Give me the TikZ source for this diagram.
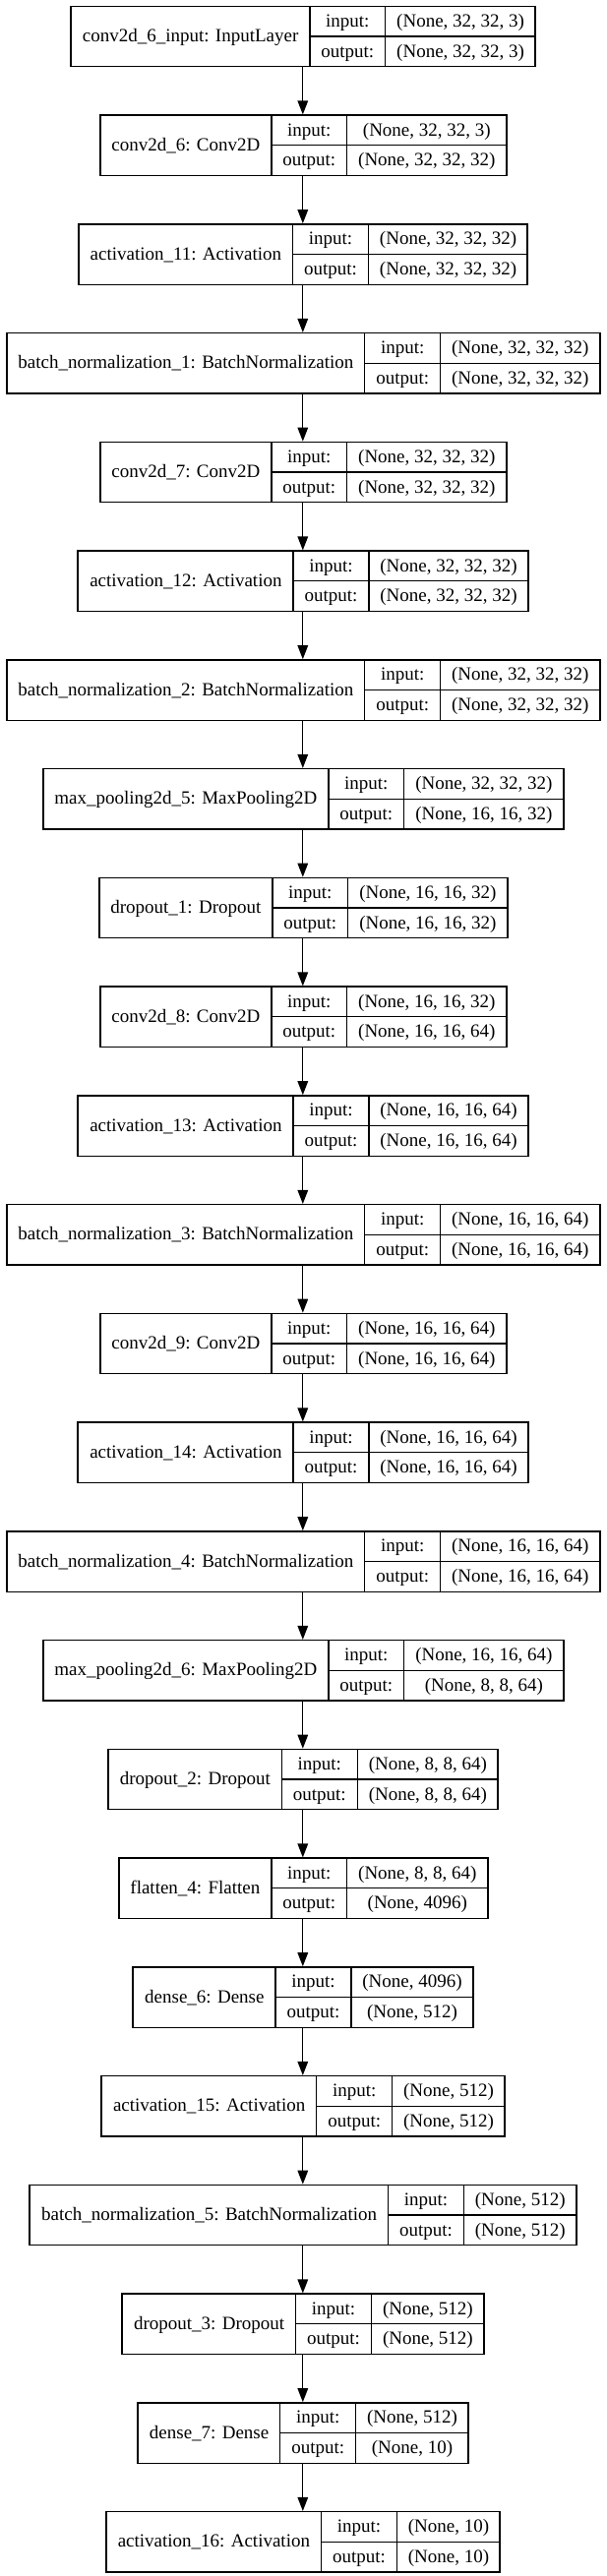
\documentclass[tikz,border=0pt]{standalone}
\usepackage{fontspec}
\setmainfont{Liberation Serif}
\usetikzlibrary{arrows.meta}
\newcommand\kfont{\fontsize{19}{22}\selectfont}
\newdimen\kwa \newdimen\kwb \newdimen\kwc \newdimen\kwd
\newcommand\layers{%
 0/{conv2d\_6\_input: InputLayer}/{(None, 32, 32, 3)}/{(None, 32, 32, 3)},
 1/{conv2d\_6: Conv2D}/{(None, 32, 32, 3)}/{(None, 32, 32, 32)},
 2/{activation\_11: Activation}/{(None, 32, 32, 32)}/{(None, 32, 32, 32)},
 3/{batch\_normalization\_1: BatchNormalization}/{(None, 32, 32, 32)}/{(None, 32, 32, 32)},
 4/{conv2d\_7: Conv2D}/{(None, 32, 32, 32)}/{(None, 32, 32, 32)},
 5/{activation\_12: Activation}/{(None, 32, 32, 32)}/{(None, 32, 32, 32)},
 6/{batch\_normalization\_2: BatchNormalization}/{(None, 32, 32, 32)}/{(None, 32, 32, 32)},
 7/{max\_pooling2d\_5: MaxPooling2D}/{(None, 32, 32, 32)}/{(None, 16, 16, 32)},
 8/{dropout\_1: Dropout}/{(None, 16, 16, 32)}/{(None, 16, 16, 32)},
 9/{conv2d\_8: Conv2D}/{(None, 16, 16, 32)}/{(None, 16, 16, 64)},
 10/{activation\_13: Activation}/{(None, 16, 16, 64)}/{(None, 16, 16, 64)},
 11/{batch\_normalization\_3: BatchNormalization}/{(None, 16, 16, 64)}/{(None, 16, 16, 64)},
 12/{conv2d\_9: Conv2D}/{(None, 16, 16, 64)}/{(None, 16, 16, 64)},
 13/{activation\_14: Activation}/{(None, 16, 16, 64)}/{(None, 16, 16, 64)},
 14/{batch\_normalization\_4: BatchNormalization}/{(None, 16, 16, 64)}/{(None, 16, 16, 64)},
 15/{max\_pooling2d\_6: MaxPooling2D}/{(None, 16, 16, 64)}/{(None, 8, 8, 64)},
 16/{dropout\_2: Dropout}/{(None, 8, 8, 64)}/{(None, 8, 8, 64)},
 17/{flatten\_4: Flatten}/{(None, 8, 8, 64)}/{(None, 4096)},
 18/{dense\_6: Dense}/{(None, 4096)}/{(None, 512)},
 19/{activation\_15: Activation}/{(None, 512)}/{(None, 512)},
 20/{batch\_normalization\_5: BatchNormalization}/{(None, 512)}/{(None, 512)},
 21/{dropout\_3: Dropout}/{(None, 512)}/{(None, 512)},
 22/{dense\_7: Dense}/{(None, 512)}/{(None, 10)},
 23/{activation\_16: Activation}/{(None, 10)}/{(None, 10)}}
\begin{document}
\foreach \i/\lab/\vin/\vout in \layers {%
  \settowidth\kwa{\kfont \lab}%
  \settowidth\kwc{\kfont \vin}%
  \settowidth\kwd{\kfont \vout}%
  \pgfmathsetmacro\tmpa{\kwa+23}%
  \pgfmathsetmacro\tmpc{max(\kwc,\kwd)+23}%
  \expandafter\xdef\csname kwl\i\endcsname{\tmpa}%
  \expandafter\xdef\csname kwv\i\endcsname{\tmpc}%
}%
\settowidth\kwb{\kfont output:}%
\pgfmathsetmacro\tmpb{\kwb+23}%
\xdef\kwio{\tmpb}%
\begin{tikzpicture}[x=1pt,y=-1pt,
  outerbox/.style={draw=black, line width=1.33pt, inner sep=0pt, anchor=north, minimum height=61.3pt},
  cellbox/.style={draw=black, line width=1.33pt, inner sep=0pt, anchor=north west, font=\kfont, text height=14.5pt, text depth=3.1pt, align=center},
  arr/.style={draw=black, line width=1.33pt, -{Triangle[length=14pt,width=10.5pt]}}]
\useasboundingbox (0,0) rectangle (616,2619);
\foreach \i/\lab/\vin/\vout in \layers {
  \pgfmathsetmacro\wl{\csname kwl\i\endcsname}
  \pgfmathsetmacro\wi{\kwio}
  \pgfmathsetmacro\wv{\csname kwv\i\endcsname}
  \pgfmathsetmacro\W{\wl+\wi+\wv}
  \pgfmathsetmacro\xl{307.8-\W/2}
  \pgfmathsetmacro\xi{\xl+\wl}
  \pgfmathsetmacro\xv{\xl+\wl+\wi}
  \pgfmathsetmacro\yt{5.7+\i*110.75}
  \pgfmathsetmacro\ym{\yt+30.65}
  \node[outerbox, minimum width=\W pt] (B\i) at (307.8,\yt) {};
  \node[cellbox, minimum width=\wl pt, minimum height=61.3pt] (L\i) at (\xl,\yt) {\lab};
  \node[cellbox, minimum width=\wi pt, minimum height=30.65pt] (I\i) at (\xi,\yt) {input:};
  \node[cellbox, minimum width=\wi pt, minimum height=30.65pt] (O\i) at (\xi,\ym) {output:};
  \node[cellbox, minimum width=\wv pt, minimum height=30.65pt] (VI\i) at (\xv,\yt) {\vin};
  \node[cellbox, minimum width=\wv pt, minimum height=30.65pt] (VO\i) at (\xv,\ym) {\vout};
}
\foreach \i [evaluate=\i as \j using int(\i+1)] in {0,...,22}{
  \draw[arr] (B\i.south) -- (B\j.north);
}
\end{tikzpicture}
\end{document}
